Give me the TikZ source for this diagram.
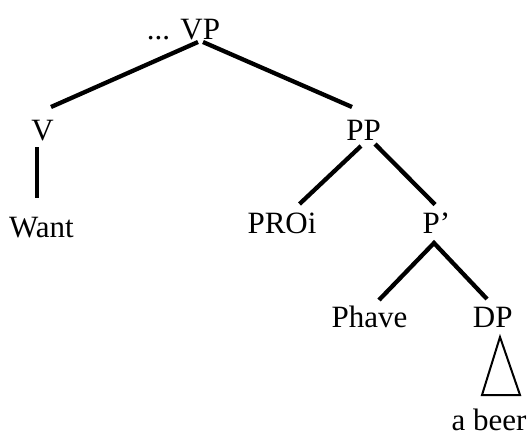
\documentclass[tikz,border=0pt]{standalone}
\usepackage{fontspec}
\setmainfont{Liberation Serif}
\begin{document}
\begin{tikzpicture}[x=1pt,y=-1pt,
  lbl/.style={anchor=base,inner sep=0pt,font=\fontsize{31}{36}\selectfont},
  edge/.style={line width=4.3pt,line cap=butt},
  vedge/.style={line width=3.6pt,line cap=butt},
  tri/.style={line width=2pt,line join=miter}]
\useasboundingbox (0,0) rectangle (529,434);
\fill[white] (0,0) rectangle (529,434);
\node[lbl] (vp) at (183.5,39) {... VP};
\node[lbl] (v) at (42.5,140) {V};
\node[lbl] (pp) at (363.5,140) {PP};
\node[lbl] (want) at (41.5,237) {Want};
\node[lbl] (proi) at (282,233) {PROi};
\node[lbl] (pbar) at (436.5,233) {P’};
\node[lbl] (phave) at (369.5,327) {Phave};
\node[lbl] (dp) at (492.7,327) {DP};
\node[lbl] (beer) at (489,430) {a beer};
\draw[edge] ([shift={(14.5,3)}]vp.base) -- ([shift={(8.5,-33)}]v.base);
\draw[edge] ([shift={(19.5,3)}]vp.base) -- ([shift={(-11.5,-33)}]pp.base);
\draw[vedge] ([shift={(-5.5,7)}]v.base) -- ([shift={(-4.5,-39)}]want.base);
\draw[edge] ([shift={(-2.5,6)}]pp.base) -- ([shift={(17.5,-29)}]proi.base);
\draw[edge] ([shift={(11.5,4)}]pp.base) -- ([shift={(-1.5,-28.5)}]pbar.base);
\draw[edge,line join=miter] ([shift={(9.5,-27)}]phave.base) -- ([shift={(-2.5,10)}]pbar.base) -- ([shift={(-5.7,-28)}]dp.base);
\draw[tri] ([shift={(7.3,10)}]dp.base) -- ([shift={(-7,-35)}]beer.base) -- ([shift={(31,-35)}]beer.base) -- cycle;
\end{tikzpicture}
\end{document}
